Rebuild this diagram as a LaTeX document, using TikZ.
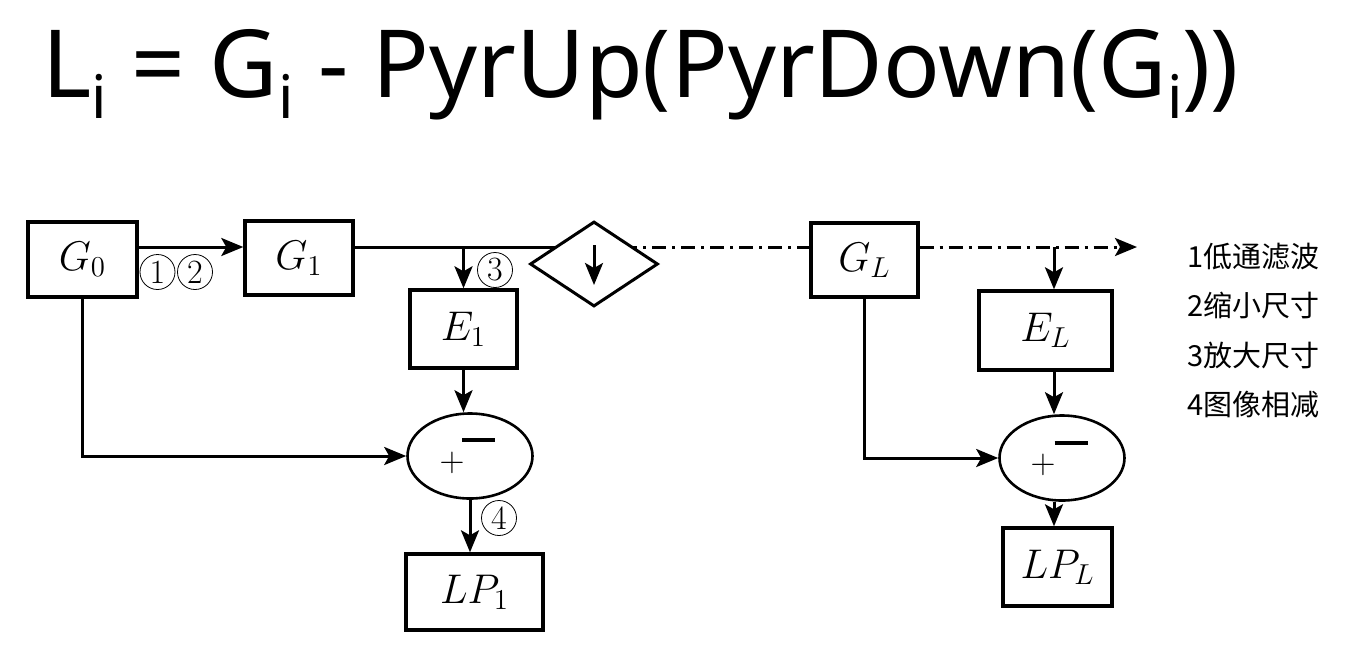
\documentclass[tikz,border=0pt]{standalone}
\usepackage[no-math]{fontspec}
\usepackage{amsmath}
\newfontfamily\titlefont{Noto Sans}
\newfontfamily\cjk{Noto Sans CJK SC}
\usetikzlibrary{shapes.geometric,arrows.meta,calc}

\newcommand{\subi}{\raisebox{-10.5pt}{\fontsize{30}{30}\selectfont i}}

\tikzset{
  blk/.style={draw, line width=1.7pt, inner sep=0pt, font=\fontsize{21}{21}\selectfont},
  sub/.style={ellipse, draw, line width=1.3pt, minimum width=62.5pt, minimum height=42.5pt, inner sep=0pt},
  num/.style={circle, draw, line width=0.4pt, minimum size=17.5pt, inner sep=0pt, font=\fontsize{17}{17}\selectfont},
  flow/.style={line width=1.5pt, -{Stealth[length=11pt, width=9pt, inset=2.5pt]}},
  dashdot/.style={line width=1.5pt, dash pattern=on 7pt off 3pt on 1.5pt off 3pt},
  leg/.style={anchor=west, inner sep=0pt, font=\cjk\fontsize{14.5}{14.5}\selectfont},
}

\begin{document}
\begin{tikzpicture}[x=0.5pt, y=-0.5pt]
        \useasboundingbox (0,0) rectangle (1357,666);
        \coordinate (row) at (0,247);
        \coordinate (dc) at (594,264);
        \coordinate (tip) at (1137,0);
        \coordinate (brL) at (1054,0);

        \node[anchor=base west, inner sep=0pt, font=\titlefont\fontsize{47}{47}\selectfont] (title) at (42,97)
            {L\subi{} = G\subi{} - PyrUp(PyrDown(G\subi))};

        \node[blk, minimum width=54.5pt, minimum height=37.5pt] (G0) at (82.5,259.5) {$G_0$};
        \node[blk, minimum width=54pt, minimum height=37pt] (G1) at (299,258) {$G_1$};
        \node[blk, minimum width=53.5pt, minimum height=39pt] (E1) at (463.5,329) {$E_1$};
        \node[sub] (S1) at (470,456) {};
        \node[blk, minimum width=68.5pt, minimum height=38pt] (LP1) at (474.5,592) {$LP_1$};

        \node[blk, minimum width=53.5pt, minimum height=37pt] (GL) at (864.5,260) {$G_L$};
        \node[blk, minimum width=66.5pt, minimum height=39.5pt] (EL) at (1045.5,330.5) {$E_L$};
        \node[sub] (S2) at (1062,458) {};
        \node[blk, minimum width=54.5pt, minimum height=39pt] (LPL) at (1057.5,567) {$LP_L$};

        \draw[flow] (G0.east |- row) -- (G1.west |- row);
        \draw[line width=1.5pt] (G1.east |- row) -- (dc |- row);
        \draw[dashdot] (dc |- row) -- (GL.west |- row);
        \draw[dashdot, flow] (GL.east |- row) -- (tip |- row);
        \node[diamond, draw, fill=white, line width=1.5pt, minimum width=64pt, minimum height=42.5pt, inner sep=0pt] (dn) at (dc) {};
        \draw[flow] ($(dn.center)+(0,-19)$) -- ($(dn.center)+(0,21)$);

        \draw[flow] (E1.north |- row) -- (E1.north);
        \draw[flow] (E1.south) -- (E1.south |- S1.north);
        \draw[flow] (G0.south) |- (S1.west);
        \draw[flow] (S1.south) -- (S1.south |- LP1.north);

        \draw[flow] (brL |- row) -- (brL |- EL.north);
        \draw[flow] (brL |- EL.south) -- (brL |- S2.north);
        \draw[flow] (GL.south) |- (S2.west);
        \draw[flow] (brL |- S2.south) -- (brL |- LPL.north);

        \node[inner sep=0pt, font=\fontsize{16}{16}\selectfont] (p1) at ($(S1.center)+(-18,7)$) {$+$};
        \node[inner sep=0pt] (m1) at ($(S1.center)+(8.5,-16)$) {\rule{16.5pt}{1.8pt}};
        \node[inner sep=0pt, font=\fontsize{16}{16}\selectfont] (p2) at ($(S2.center)+(-19,7)$) {$+$};
        \node[inner sep=0pt] (m2) at ($(S2.center)+(9,-15)$) {\rule{16.5pt}{1.8pt}};

        \node[num] (c1) at (157.5,272) {1};
        \node[num] (c2) at (195,272) {2};
        \node[num] (c3) at (495,270) {3};
        \node[num] (c4) at (499,518) {4};

        \node[leg] (l1) at (1187,257) {1低通滤波};
        \node[leg] (l2) at (1187,305) {2缩小尺寸};
        \node[leg] (l3) at (1187,355) {3放大尺寸};
        \node[leg] (l4) at (1187,405) {4图像相减};
\end{tikzpicture}
\end{document}
